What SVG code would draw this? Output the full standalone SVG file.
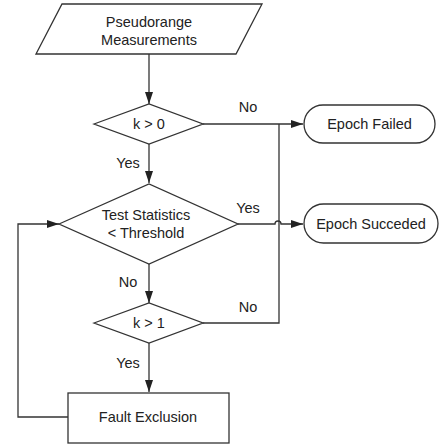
<svg xmlns="http://www.w3.org/2000/svg" width="440" height="447" viewBox="0 0 440 447">
<defs>
<marker id="ah" markerWidth="12" markerHeight="8" refX="12" refY="4" orient="auto" markerUnits="userSpaceOnUse">
<path d="M0,0 L12,4 L0,8 Z" fill="#222"/>
</marker>
<style>
.s{fill:#fff;stroke:#333;stroke-width:1.3}
.c{fill:none;stroke:#333;stroke-width:1.3}
text{font-family:"Liberation Sans",Arial,sans-serif;font-size:14.5px;fill:#222;text-anchor:middle}
</style>
</defs>
<rect width="440" height="447" fill="#fff"/>
<g id="connectors">
<path class="c" d="M149,54 V104" marker-end="url(#ah)"/>
<path class="c" d="M203,124 H303" marker-end="url(#ah)"/>
<path class="c" d="M149,144 V183" marker-end="url(#ah)"/>
<path class="c" d="M238,224 H275 A3,3 0 0 1 281,224 H303" marker-end="url(#ah)"/>
<path class="c" d="M149,264 V303" marker-end="url(#ah)"/>
<path class="c" d="M203,323 H279 V124"/>
<path class="c" d="M149,343 V392" marker-end="url(#ah)"/>
<path class="c" d="M68,417 H18 V224 H59" marker-end="url(#ah)"/>
<text x="248" y="112">No</text>
<text x="128" y="168">Yes</text>
<text x="248" y="213">Yes</text>
<text x="128" y="287">No</text>
<text x="248" y="312">No</text>
<text x="128" y="368">Yes</text>
</g>
<g id="pseudorange">
<polygon class="s" points="62,4 262,4 236,54 36,54"/>
<text x="149" y="27">Pseudorange</text>
<text x="149" y="45">Measurements</text>
</g>
<g id="k0">
<polygon class="s" points="94,124 149,104 203,124 149,144"/>
<text x="149" y="129">k &gt; 0</text>
</g>
<g id="test">
<polygon class="s" points="59,224 149,184 238,224 149,264"/>
<text x="146" y="220">Test Statistics</text>
<text x="146" y="238">&lt; Threshold</text>
</g>
<g id="k1">
<polygon class="s" points="94,323 149,303 203,323 149,343"/>
<text x="149" y="328">k &gt; 1</text>
</g>
<g id="fault">
<rect class="s" x="68" y="393" width="161" height="50"/>
<text x="148" y="422">Fault Exclusion</text>
</g>
<g id="failed">
<rect class="s" x="304" y="105" width="131" height="38" rx="19"/>
<text x="369.5" y="129">Epoch Failed</text>
</g>
<g id="succeeded">
<rect class="s" x="304" y="204" width="134" height="39" rx="19.5"/>
<text x="371" y="228.5">Epoch Succeded</text>
</g>
</svg>
